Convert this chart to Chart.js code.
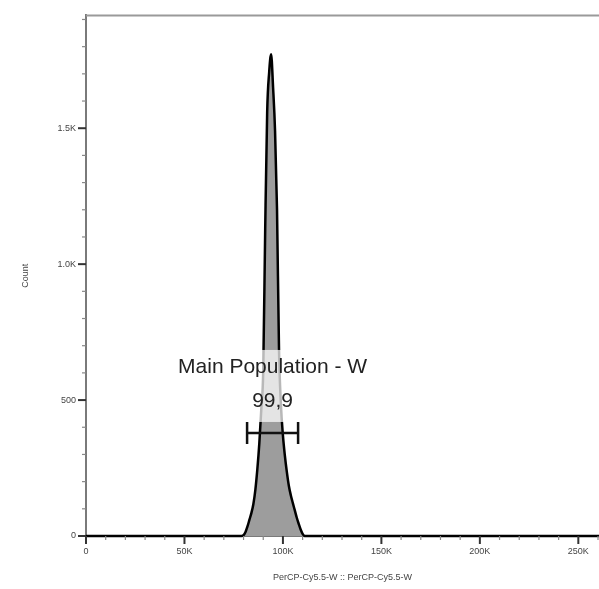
<!DOCTYPE html>
<html>
<head>
<meta charset="utf-8">
<script src="https://cdn.jsdelivr.net/npm/chart.js@4/dist/chart.umd.min.js"></script>
<style>
  body { margin: 0; background: #fff; }
  #wrap { width: 599px; height: 589px; }
</style>
</head>
<body>
<div id="wrap"><canvas id="histChart" width="599" height="589"></canvas></div>
<script>
// histogram bins (channel value) and counts
const binValues = [0, 78000, 79000, 80000, 81000, 82000, 83000, 84000, 85000, 86000, 87000, 88000,
  89000, 90000, 91000, 92000, 93000, 94000, 95000, 96000, 97000, 98000, 99000, 100000,
  101000, 102000, 103000, 104000, 105000, 106000, 107000, 108000, 109000, 110000, 111000, 262144]
const binCounts = [0, 0, 0, 3, 15, 35, 60, 85, 118, 170, 245, 340,
  465, 610, 1130, 1560, 1705, 1772, 1650, 1490, 1200, 690, 480, 370,
  295, 235, 185, 150, 122, 95, 68, 45, 24, 8, 0, 0]

const xTickValues = [0, 50000, 100000, 150000, 200000, 250000]
const xTickLabels = ['0', '50K', '100K', '150K', '200K', '250K']
const yTickValues = [0, 500, 1000, 1500]
const yTickLabels = ['0', '500', '1.0K', '1.5K']

// gate
const gateName = 'Main Population - W'
const gateFreq = '99,9'
const gateRange = [81800, 107700]
const gateLevel = 379

const X_MAX = 260500
const Y_MAX = 1915

// draws minor/major tick marks, gate bar and its label
const flowPlugin = {
    id: 'flowPlugin',
    afterDatasetsDraw(chart) {
        const ctx = chart.ctx
        const xs = chart.scales.x
        const ys = chart.scales.y

        const gx1 = xs.getPixelForValue(gateRange[0])
        const gx2 = xs.getPixelForValue(gateRange[1])
        const gy = ys.getPixelForValue(gateLevel)
        ctx.save()

        // label with translucent box
        const cx = (gx1 + gx2) / 2
        const ty = gy - 60
        ctx.font = '21px "Liberation Sans", Arial, sans-serif'
        const w = ctx.measureText(gateName).width
        ctx.fillStyle = 'rgba(255,255,255,0.72)'
        ctx.fillRect(cx - w / 2 - 10, ty - 23, w + 20, 72)
        ctx.fillStyle = '#222'
        ctx.textAlign = 'center'
        ctx.textBaseline = 'alphabetic'
        ctx.fillText(gateName, cx, ty)
        ctx.fillText(gateFreq, cx, ty + 34)

        // gate range bar
        ctx.strokeStyle = '#111'
        ctx.lineWidth = 2.5
        ctx.beginPath()
        ctx.moveTo(gx1, gy)
        ctx.lineTo(gx2, gy)
        ctx.moveTo(gx1, gy - 11)
        ctx.lineTo(gx1, gy + 11)
        ctx.moveTo(gx2, gy - 11)
        ctx.lineTo(gx2, gy + 11)
        ctx.stroke()
        ctx.restore()
    },
    afterDraw(chart) {
        const ctx = chart.ctx
        const xs = chart.scales.x
        const ys = chart.scales.y
        const area = chart.chartArea
        ctx.save()

        // top border
        ctx.strokeStyle = '#9a9a9a'
        ctx.lineWidth = 2
        ctx.beginPath()
        ctx.moveTo(area.left, area.top)
        ctx.lineTo(area.right, area.top)
        ctx.stroke()

        // y ticks
        for (let v = 0; v <= Y_MAX; v += 100) {
            const py = ys.getPixelForValue(v)
            const major = v % 500 === 0
            ctx.strokeStyle = major ? '#333' : '#888'
            ctx.lineWidth = major ? 2 : 1.2
            ctx.beginPath()
            ctx.moveTo(area.left - (major ? 8 : 4), py)
            ctx.lineTo(area.left, py)
            ctx.stroke()
        }
        // x ticks
        for (let v = 0; v <= X_MAX; v += 10000) {
            const px = xs.getPixelForValue(v)
            const major = v % 50000 === 0
            ctx.strokeStyle = major ? '#333' : '#888'
            ctx.lineWidth = major ? 2 : 1.2
            ctx.beginPath()
            ctx.moveTo(px, area.bottom)
            ctx.lineTo(px, area.bottom + (major ? 8 : 4))
            ctx.stroke()
        }
        ctx.restore()
    }
}

let histData = binValues.map((v, i) => ({ x: v, y: binCounts[i] }))

let options = {
    type: 'line',
    data: {
        datasets: [{
            data: histData,
            borderColor: '#000',
            borderWidth: 2.5,
            backgroundColor: '#9d9d9d',
            fill: 'origin',
            pointRadius: 0,
            cubicInterpolationMode: 'monotone',
            clip: false
        }]
    },
    options: {
        responsive: false,
        animation: false,
        layout: { padding: { top: 15, right: 0, left: 0, bottom: 0 } },
        plugins: { legend: { display: false }, tooltip: { enabled: false } },
        scales: {
            x: {
                type: 'linear',
                min: 0,
                max: X_MAX,
                afterBuildTicks: scale => { scale.ticks = xTickValues.map(v => ({ value: v })) },
                afterFit: scale => { scale.height = 53 },
                grid: { display: false, drawTicks: false },
                border: { display: true, color: '#7a7a7a', width: 2 },
                ticks: {
                    padding: 10,
                    color: '#444',
                    font: { size: 9, family: '"Liberation Sans", Arial, sans-serif' },
                    maxRotation: 0,
                    autoSkip: false,
                    callback: (value, index) => xTickLabels[index]
                },
                title: {
                    display: true,
                    text: 'PerCP-Cy5.5-W :: PerCP-Cy5.5-W',
                    color: '#444',
                    font: { size: 9, family: '"Liberation Sans", Arial, sans-serif' },
                    padding: { top: 0, bottom: 6 }
                }
            },
            y: {
                type: 'linear',
                min: 0,
                max: Y_MAX,
                afterBuildTicks: scale => { scale.ticks = yTickValues.map(v => ({ value: v })) },
                afterFit: scale => { scale.width = 86 },
                grid: { display: false, drawTicks: false },
                border: { display: true, color: '#7a7a7a', width: 2 },
                ticks: {
                    padding: 10,
                    color: '#444',
                    font: { size: 9, family: '"Liberation Sans", Arial, sans-serif' },
                    autoSkip: false,
                    callback: (value, index) => yTickLabels[index]
                },
                title: {
                    display: true,
                    text: 'Count',
                    color: '#444',
                    font: { size: 9, family: '"Liberation Sans", Arial, sans-serif' },
                    padding: { top: 20, bottom: 0 }
                }
            }
        }
    },
    plugins: [flowPlugin]
}

const canvas = document.getElementById('histChart')
const histChart = new Chart(canvas.getContext('2d'), options)
</script>
</body>
</html>
